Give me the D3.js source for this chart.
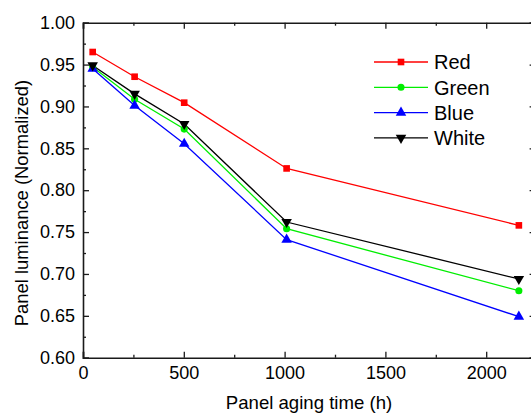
<!DOCTYPE html>
<html>
<head>
<meta charset="utf-8">
<script src="https://cdn.jsdelivr.net/npm/d3@7"></script>
<style>
  html, body { margin: 0; padding: 0; background: #fff; }
  svg { display: block; font-family: "Liberation Sans", Arial, sans-serif; }
</style>
</head>
<body>
<svg id="chart" width="531" height="415"></svg>
<script>
// Aging hours at which luminance was measured
const hours = [48, 256, 502, 1010, 2162];
// Normalized luminance for each colour channel
const red   = [0.965, 0.9355, 0.9045, 0.826, 0.758];
const green = [0.947, 0.9085, 0.873, 0.754, 0.680];
const blue  = [0.945, 0.901, 0.8555, 0.741, 0.649];
const white = [0.949, 0.915, 0.879, 0.762, 0.694];
const seriesNames = ["Red", "Green", "Blue", "White"];
const xTicks = [0, 500, 1000, 1500, 2000];
const yTicks = [0.60, 0.65, 0.70, 0.75, 0.80, 0.85, 0.90, 0.95, 1.00];

const series = [
  { name: seriesNames[0], values: red,   color: "#ff0000", symbol: d3.symbolSquare,   size: 44 },
  { name: seriesNames[1], values: green, color: "#00ee00", symbol: d3.symbolCircle,   size: 40 },
  { name: seriesNames[2], values: blue,  color: "#0000ff", symbol: d3.symbolTriangle, size: 48, rot: 0 },
  { name: seriesNames[3], values: white, color: "#000000", symbol: d3.symbolTriangle, size: 48, rot: 180 }
];

const svg = d3.select("#chart");
const m = { left: 83, top: 22.7, right: 536.6, bottom: 357.7 };

const x = d3.scaleLinear().domain([0, 2250]).range([m.left, m.right]);
const y = d3.scaleLinear().domain([0.60, 1.00]).range([m.bottom, m.top]);

const axisColor = "#1a1a1a";
const g = svg.append("g");

function styleAxis(sel) {
  sel.select(".domain").attr("stroke", axisColor).attr("stroke-width", 1.6);
  sel.selectAll(".tick line").attr("stroke", axisColor).attr("stroke-width", 1.3);
  sel.selectAll("text").attr("fill", "#000").style("font-size", "18px");
}
function minorStyle(s) {
  s.select(".domain").remove();
  s.selectAll("line").attr("stroke", axisColor).attr("stroke-width", 1.3);
}

const minorX = d3.range(250, 2250, 500);
const minorY = d3.range(0.625, 1.0, 0.05);

// bottom axis (ticks pointing in)
const bx = g.append("g").attr("transform", `translate(0,${m.bottom})`)
  .call(d3.axisBottom(x).tickValues(xTicks).tickSize(-6).tickPadding(9).tickFormat(d3.format("d")));
styleAxis(bx);
g.append("g").attr("transform", `translate(0,${m.bottom})`)
  .call(d3.axisBottom(x).tickValues(minorX).tickSize(-3).tickFormat(""))
  .call(minorStyle);

// top axis
const tx = g.append("g").attr("transform", `translate(0,${m.top})`)
  .call(d3.axisTop(x).tickValues(xTicks).tickSize(-6).tickFormat(""));
styleAxis(tx);
g.append("g").attr("transform", `translate(0,${m.top})`)
  .call(d3.axisTop(x).tickValues(minorX).tickSize(-3).tickFormat(""))
  .call(minorStyle);

// left axis
const ly = g.append("g").attr("transform", `translate(${m.left},0)`)
  .call(d3.axisLeft(y).tickValues(yTicks).tickSize(-6).tickPadding(8).tickFormat(d3.format(".2f")));
styleAxis(ly);
g.append("g").attr("transform", `translate(${m.left},0)`)
  .call(d3.axisLeft(y).tickValues(minorY).tickSize(-3).tickFormat(""))
  .call(minorStyle);

// right axis
const ry = g.append("g").attr("transform", `translate(${m.right},0)`)
  .call(d3.axisRight(y).tickValues(yTicks).tickSize(-7).tickFormat(""));
styleAxis(ry);

// axis titles
svg.append("text")
  .attr("x", 309).attr("y", 409)
  .attr("text-anchor", "middle")
  .style("font-size", "18.6px")
  .text("Panel aging time (h)");
svg.append("text")
  .attr("transform", `translate(28,203) rotate(-90)`)
  .attr("text-anchor", "middle")
  .style("font-size", "18.4px")
  .text("Panel luminance (Normalized)");

// series lines and markers
const line = d3.line().x((d, i) => x(hours[i])).y(d => y(d));
const plot = svg.append("g");
series.forEach(s => {
  plot.append("path")
    .datum(s.values)
    .attr("fill", "none")
    .attr("stroke", s.color)
    .attr("stroke-width", 1.3)
    .attr("d", line);
});
series.forEach(s => {
  const sym = d3.symbol().type(s.symbol).size(s.size);
  plot.selectAll(null)
    .data(s.values)
    .join("path")
    .attr("d", sym)
    .attr("fill", s.color)
    .attr("transform", (d, i) => `translate(${x(hours[i])},${y(d)}) rotate(${s.rot || 0})`);
});

// legend
const legend = svg.append("g");
const ly0 = 62, lstep = 25.3;
series.forEach((s, i) => {
  const yy = ly0 + i * lstep;
  legend.append("line")
    .attr("x1", 374).attr("x2", 428).attr("y1", yy).attr("y2", yy)
    .attr("stroke", s.color).attr("stroke-width", 1.3);
  legend.append("path")
    .attr("d", d3.symbol().type(s.symbol).size(s.size)())
    .attr("fill", s.color)
    .attr("transform", `translate(401,${yy}) rotate(${s.rot || 0})`);
  legend.append("text")
    .attr("x", 434).attr("y", yy).attr("dy", "0.36em")
    .style("font-size", "20px")
    .text(s.name);
});
</script>
</body>
</html>
